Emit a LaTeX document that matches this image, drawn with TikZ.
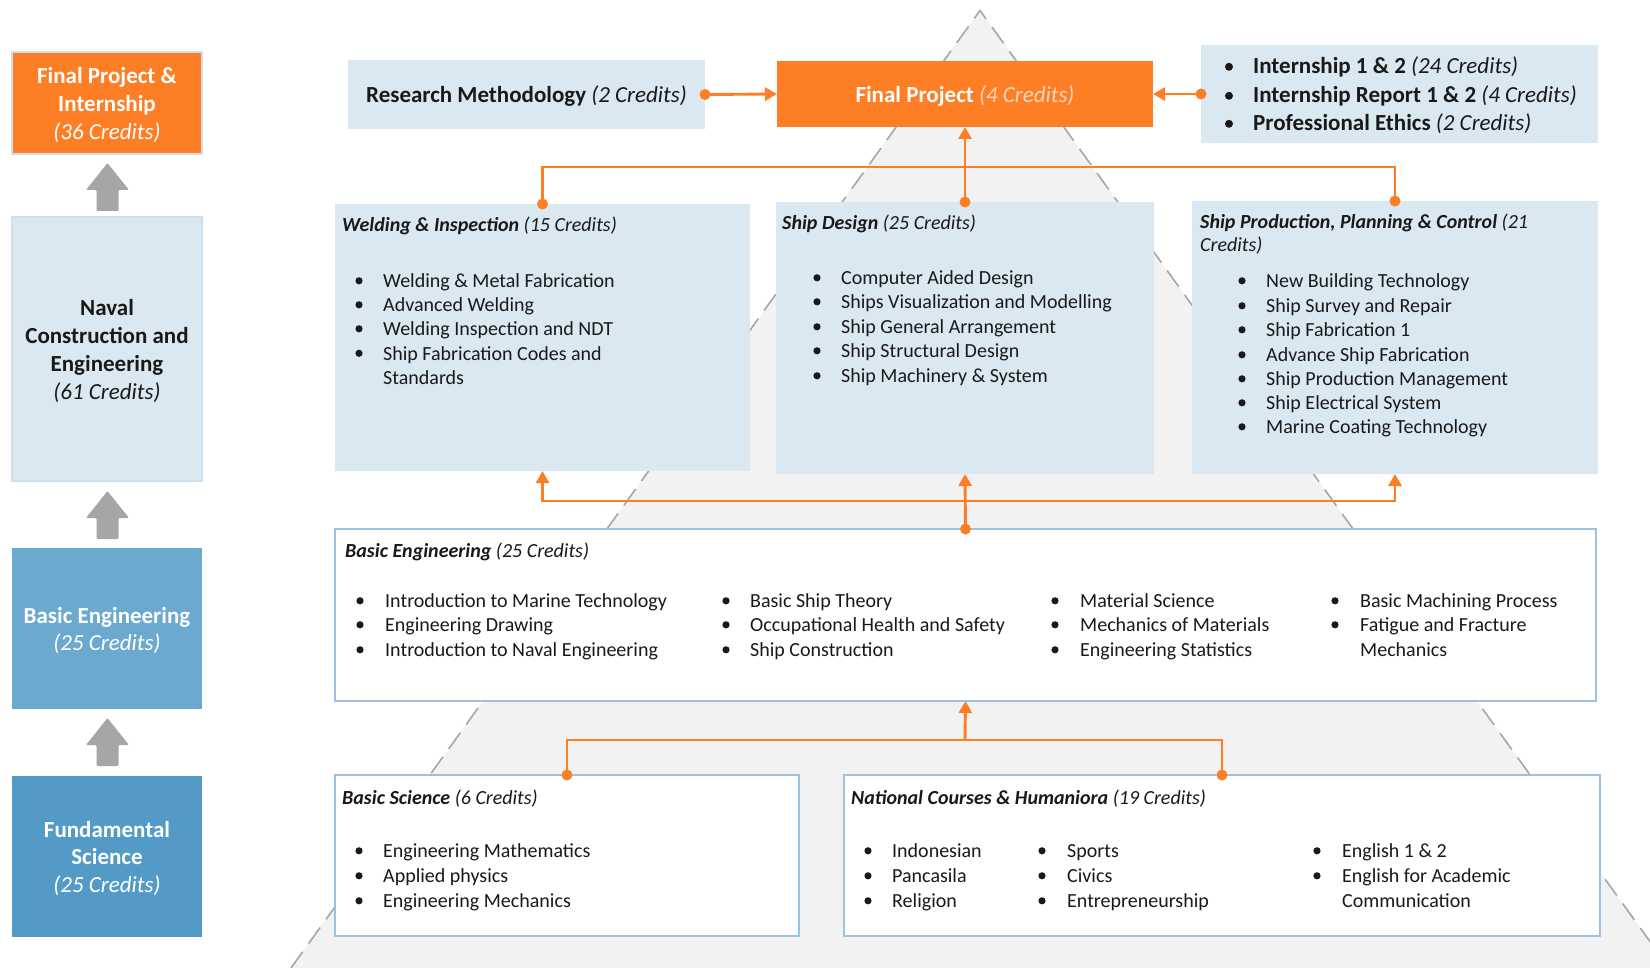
\documentclass[tikz,border=0pt]{standalone}
\usepackage{fontspec}
\setmainfont{Carlito}
\usetikzlibrary{arrows.meta}
\definecolor{orng}{RGB}{254,126,38}
\definecolor{lblue}{RGB}{218,232,242}
\definecolor{lbord}{RGB}{206,224,238}
\definecolor{beblue}{RGB}{107,170,206}
\definecolor{fsblue}{RGB}{83,155,198}
\definecolor{wbord}{RGB}{155,194,230}
\definecolor{trifill}{RGB}{242,242,242}
\definecolor{tridash}{RGB}{166,166,166}
\definecolor{garrowc}{RGB}{166,166,166}
\definecolor{txt}{RGB}{25,25,25}
\definecolor{fpcred}{RGB}{253,214,188}
\tikzset{
  bx/.style={inner sep=0pt, outer sep=0pt},
  lbx/.style={bx, fill=lblue},
  wbx/.style={bx, fill=white, draw=wbord, line width=1.4pt},
  big/.style={font=\fontsize{23}{27.7}\selectfont, text=txt, inner sep=0pt, align=center, yshift=-2pt},
  itm/.style={anchor=west, inner sep=0pt, text height=14pt, text depth=4pt, text=txt, font=\fontsize{20}{24.4}\selectfont, yshift=-2.8pt},
  bigitm/.style={anchor=west, inner sep=0pt, text height=16pt, text depth=5pt, text=txt, font=\fontsize{23}{27.7}\selectfont, yshift=-2.5pt},
  conn/.style={draw=orng, line width=2.9pt},
  tip/.style={-{Triangle[length=12pt,width=13pt]}},
  garrow/.style={fill=garrowc, rounded corners=1.2pt},
}
\newcommand\bdot[2]{\fill[txt] (#1,#2+0.8) circle (3.6pt);}
\newcommand\bigdot[2]{\fill[txt] (#1,#2+0.8) circle (4pt);}
\newcommand\garr[1]{\fill[garrow] (96.5,#1+48) -- (96.5,#1+27) -- (86,#1+27) -- (107.5,#1) -- (129,#1+27) -- (118.5,#1+27) -- (118.5,#1+48) -- cycle;}
\begin{document}
\begin{tikzpicture}[x=1pt,y=-1pt]
\useasboundingbox (0,0) rectangle (1650,968);
\fill[white] (0,0) rectangle (1650,968);
% pyramid
\begin{scope}
\clip (0,0) rectangle (1650,968);
\fill[trifill] (980,10.5) -- (291,968) -- (1669,968) -- cycle;
\draw[tridash, line width=1.6pt, dash pattern=on 20pt off 10pt] (291,968) -- (980,10.5) -- (1669,968);
\end{scope}

% left column
\node[bx, fill=orng, draw=lbord, line width=1.4pt, minimum width=190pt, minimum height=102pt] (lfp) at (107,103) {};
\node[lbx, draw=lbord, line width=1.2pt, minimum width=190pt, minimum height=264pt] (lnc) at (107,349) {};
\node[bx, fill=beblue, minimum width=190pt, minimum height=161pt] (lbe) at (107,628.5) {};
\node[bx, fill=fsblue, minimum width=190pt, minimum height=161pt] (lfs) at (107,856.5) {};
\node[big, text=white] (lfpt) at (lfp.center) {\bfseries Final Project \&\\\bfseries Internship\\\itshape (36 Credits)};
\node[big] (lnct) at (lnc.center) {\bfseries Naval\\\bfseries Construction and\\\bfseries Engineering\\\itshape (61 Credits)};
\node[big, text=white] (lbet) at (lbe.center) {\bfseries Basic Engineering\\\itshape (25 Credits)};
\node[big, text=white] (lfst) at (lfs.center) {\bfseries Fundamental\\\bfseries Science\\\itshape (25 Credits)};
\garr{163}
\garr{491}
\garr{718}

% top row
\node[lbx, minimum width=357pt, minimum height=69pt] (rm) at (526.5,94.5) {};
\node[bx, fill=orng, minimum width=376pt, minimum height=66pt] (fp) at (965,94) {};
\node[lbx, minimum width=397pt, minimum height=98pt] (ib) at (1399.5,94) {};
\node[big] (rmt) at (rm.center) {\textbf{Research Methodology} \textit{(2 Credits)}};
\node[big, text=white] (fpt) at (fp.center) {\textbf{Final Project} \textcolor{fpcred}{\textit{(4 Credits)}}};
\bigdot{1229}{66}\node[bigitm] (ib1) at (1253,66) {\textbf{Internship 1 \& 2} \textit{(24 Credits)}};
\bigdot{1229}{95}\node[bigitm] (ib2) at (1253,95) {\textbf{Internship Report 1 \& 2} \textit{(4 Credits)}};
\bigdot{1229}{123}\node[bigitm] (ib3) at (1253,123) {\textbf{Professional Ethics} \textit{(2 Credits)}};

% middle row
\node[lbx, minimum width=415pt, minimum height=267pt] (ws) at (542.5,337.5) {};
\node[lbx, minimum width=378pt, minimum height=272pt] (sd) at (965,338) {};
\node[lbx, minimum width=406pt, minimum height=273pt] (sp) at (1395,337.5) {};
\node[itm] (wsh) at (342,224) {\textbf{\textit{Welding \& Inspection}} \textit{(15 Credits)}};
\bdot{359}{280}\node[itm] (ws1) at (383,280) {Welding \& Metal Fabrication};
\bdot{359}{304}\node[itm] (ws2) at (383,304) {Advanced Welding};
\bdot{359}{328}\node[itm] (ws3) at (383,328) {Welding Inspection and NDT};
\bdot{359}{352.5}\node[itm] (ws4) at (383,352.5) {Ship Fabrication Codes and};
\node[itm] (ws5) at (383,377) {Standards};
\node[itm] (sdh) at (782,222) {\textbf{\textit{Ship Design}} \textit{(25 Credits)}};
\bdot{817}{277}\node[itm] (sd1) at (841,277) {Computer Aided Design};
\bdot{817}{301}\node[itm] (sd2) at (841,301) {Ships Visualization and Modelling};
\bdot{817}{326}\node[itm] (sd3) at (841,326) {Ship General Arrangement};
\bdot{817}{350}\node[itm] (sd4) at (841,350) {Ship Structural Design};
\bdot{817}{375}\node[itm] (sd5) at (841,375) {Ship Machinery \& System};
\node[itm] (sph1) at (1200,221) {\textbf{\textit{Ship Production, Planning \& Control}} \textit{(21}};
\node[itm] (sph2) at (1200,244) {\textit{Credits)}};
\bdot{1242}{280}\node[itm] (sp1) at (1266,280) {New Building Technology};
\bdot{1242}{305}\node[itm] (sp2) at (1266,305) {Ship Survey and Repair};
\bdot{1242}{329}\node[itm] (sp3) at (1266,329) {Ship Fabrication 1};
\bdot{1242}{354}\node[itm] (sp4) at (1266,354) {Advance Ship Fabrication};
\bdot{1242}{378}\node[itm] (sp5) at (1266,378) {Ship Production Management};
\bdot{1242}{402}\node[itm] (sp6) at (1266,402) {Ship Electrical System};
\bdot{1242}{426}\node[itm] (sp7) at (1266,426) {Marine Coating Technology};

% basic engineering
\node[wbx, minimum width=1261pt, minimum height=172pt] (be) at (965.5,615) {};
\node[itm] (beh) at (345,550) {\textbf{\textit{Basic Engineering}} \textit{(25 Credits)}};
\bdot{360}{600}\node[itm] (be11) at (385,600) {Introduction to Marine Technology};
\bdot{360}{624}\node[itm] (be12) at (385,624) {Engineering Drawing};
\bdot{360}{649}\node[itm] (be13) at (385,649) {Introduction to Naval Engineering};
\bdot{726}{600}\node[itm] (be21) at (750,600) {Basic Ship Theory};
\bdot{726}{624}\node[itm] (be22) at (750,624) {Occupational Health and Safety};
\bdot{726}{649}\node[itm] (be23) at (750,649) {Ship Construction};
\bdot{1055}{600}\node[itm] (be31) at (1080,600) {Material Science};
\bdot{1055}{624}\node[itm] (be32) at (1080,624) {Mechanics of Materials};
\bdot{1055}{649}\node[itm] (be33) at (1080,649) {Engineering Statistics};
\bdot{1335}{600}\node[itm] (be41) at (1360,600) {Basic Machining Process};
\bdot{1335}{624}\node[itm] (be42) at (1360,624) {Fatigue and Fracture};
\node[itm] (be43) at (1360,649) {Mechanics};

% bottom row
\node[wbx, minimum width=464pt, minimum height=161pt] (bs) at (567,855.5) {};
\node[wbx, minimum width=756pt, minimum height=161pt] (nc) at (1222,855.5) {};
\node[itm] (bsh) at (342,797) {\textbf{\textit{Basic Science}} \textit{(6 Credits)}};
\bdot{359}{850}\node[itm] (bs1) at (383,850) {Engineering Mathematics};
\bdot{359}{875}\node[itm] (bs2) at (383,875) {Applied physics};
\bdot{359}{900}\node[itm] (bs3) at (383,900) {Engineering Mechanics};
\node[itm] (nch) at (851,797) {\textbf{\textit{National Courses \& Humaniora}} \textit{(19 Credits)}};
\bdot{868}{850}\node[itm] (nc11) at (892,850) {Indonesian};
\bdot{868}{875}\node[itm] (nc12) at (892,875) {Pancasila};
\bdot{868}{900}\node[itm] (nc13) at (892,900) {Religion};
\bdot{1042}{850}\node[itm] (nc21) at (1067,850) {Sports};
\bdot{1042}{875}\node[itm] (nc22) at (1067,875) {Civics};
\bdot{1042}{900}\node[itm] (nc23) at (1067,900) {Entrepreneurship};
\bdot{1317}{850}\node[itm] (nc31) at (1342,850) {English 1 \& 2};
\bdot{1317}{875}\node[itm] (nc32) at (1342,875) {English for Academic};
\node[itm] (nc33) at (1342,900) {Communication};

% connectors
\coordinate (bus1) at (965,167);
\coordinate (bus2) at (965,501);
\coordinate (bus3) at (965,740);
\draw[conn, tip] (rm.east) -- (fp.west);
\draw[conn, tip] (ib.west) -- (fp.east);
\fill[orng] (rm.east) circle (5.5pt);
\fill[orng] (ib.west) circle (5.5pt);
\draw[conn] (ws.north) |- (bus1) -| (sp.north);
\draw[conn, tip] (sd.north) -- (fp.south);
\fill[orng] (ws.north) circle (5.5pt);
\fill[orng] (sp.north) circle (5.5pt);
\fill[orng] (sd.north) circle (5.5pt);
\draw[conn, {Triangle[length=12pt,width=13pt]}-{Triangle[length=12pt,width=13pt]}] (ws.south) |- (bus2) -| (sp.south);
\draw[conn, tip] (be.north) -- (sd.south);
\fill[orng] (be.north) circle (5.5pt);
\draw[conn] (bs.north) |- (bus3) -| (nc.north);
\draw[conn, tip] (bus3) -- (be.south);
\fill[orng] (bs.north) circle (5.5pt);
\fill[orng] (nc.north) circle (5.5pt);
\end{tikzpicture}
\end{document}
